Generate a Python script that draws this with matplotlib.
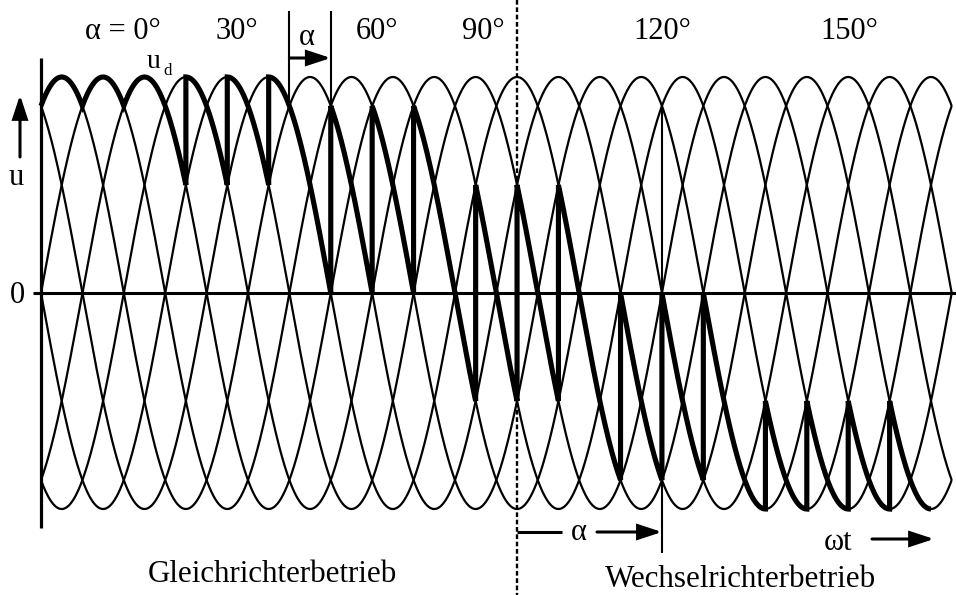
import numpy as np
import matplotlib
matplotlib.use("Agg")
import matplotlib.pyplot as plt

# ---------------- data ----------------
phase_peaks_deg = [30, 90, 150, 210, 270, 330]          # six phase voltages (peak positions)
theta_span_deg = [0, 1320]                               # drawn range of omega*t
# firing angle alpha used at each natural commutation point n*60 deg (n = 1, 2, ...)
firing_alpha_deg = [0, 0, 30, 30, 30, 60, 60, 60, 90, 90, 90,
                    120, 120, 120, 150, 150, 150, 150, 150]
region_labels = ["α = 0°", "30°", "60°", "90°", "120°", "150°"]
boundary_theta = 690                                     # rectifier / inverter border
top_alpha_marks = [360, 420]
bottom_alpha_marks = [690, 900]

# ---------------- layout helpers ----------------
W, H = 956, 595
X0, PX_PER_DEG = 41.0, 910.7 / 1320.0
Y0, PX_PER_U = 293.0, 216.0


def tx(px):
    return (px - X0) / PX_PER_DEG


def ty(py):
    return (Y0 - py) / PX_PER_U


plt.rcParams['font.family'] = ['Liberation Serif', 'DejaVu Serif']
fig = plt.figure(figsize=(W / 100, H / 100), dpi=100)
ax = fig.add_axes([0, 0, 1, 1])
ax.set_xlim(tx(0), tx(W))
ax.set_ylim(ty(H), ty(0))
ax.axis('off')

thin = 1.6
thick = 3.7

# phase voltages
theta = np.linspace(theta_span_deg[0], theta_span_deg[1], 4000)
for p in phase_peaks_deg:
    ax.plot(theta, np.cos(np.radians(theta - p)), color='black', lw=thin,
            solid_capstyle='butt')

# u_d path (thick)
xs, ys = [], []
start = 0.0
peak = 30.0
for n, a in enumerate(firing_alpha_deg, start=1):
    end = 60.0 * n + a
    seg = np.linspace(start, end, 300)
    xs.extend(seg)
    ys.extend(np.cos(np.radians(seg - peak)))
    if n < len(firing_alpha_deg):
        peak = 60.0 * n + 30.0
        start = end
ax.plot(xs, ys, color='black', lw=thick, solid_joinstyle='miter',
        solid_capstyle='butt')

# axes
ax.plot([0, 0], [ty(58), ty(528)], color='black', lw=2.3, solid_capstyle='butt')
ax.plot([tx(33), tx(956)], [0, 0], color='black', lw=2.2, solid_capstyle='butt')

# boundary dashed line
ax.plot([boundary_theta, boundary_theta], [ty(0), ty(595)], color='black', lw=1.7,
        linestyle=(0, (2.0, 1.1)))

c30 = np.cos(np.radians(30))
# top alpha marks
for t in top_alpha_marks:
    ax.plot([t, t], [ty(11), c30], color='black', lw=1.5, solid_capstyle='butt')
# bottom alpha end mark
ax.plot([bottom_alpha_marks[1]] * 2, [c30, ty(553)], color='black', lw=1.5,
        solid_capstyle='butt')


def arrow(x1, y1, x2, y2, lw=2.2):
    ax.annotate('', xy=(x2, y2), xytext=(x1, y1),
                arrowprops=dict(arrowstyle='-|>,head_length=14,head_width=4.6',
                                mutation_scale=1, lw=lw, color='black',
                                shrinkA=0, shrinkB=0, joinstyle='miter'))


# top alpha arrow
arrow(top_alpha_marks[0], ty(58), top_alpha_marks[1], ty(58))
ax.text(tx(307), ty(45), 'α', fontsize=22, ha='center', va='baseline')

# bottom alpha arrow
ax.plot([bottom_alpha_marks[0], tx(562)], [ty(532)] * 2, color='black', lw=2.2,
        solid_capstyle='butt')
arrow(tx(597), ty(532), bottom_alpha_marks[1], ty(532))
ax.text(tx(579), ty(540), 'α', fontsize=22, ha='center', va='baseline')

# omega t arrow
ax.text(tx(824), ty(550), 'ωt', fontsize=22, ha='left', va='baseline')
arrow(tx(872), ty(539), tx(934), ty(539))

# u arrow
arrow(tx(20), ty(157), tx(20), ty(95))
ax.text(tx(9), ty(185), 'u', fontsize=22, ha='left', va='baseline')
ax.text(tx(10), ty(303), '0', fontsize=22, ha='left', va='baseline')

# u_d label
ax.text(tx(147), ty(68), 'u', fontsize=20, ha='left', va='baseline')
ax.text(tx(163), ty(75), 'd', fontsize=12, ha='left', va='baseline')

# region labels
label_px = [123, 237, 377, 483, 662, 849]
for lab, px in zip(region_labels, label_px):
    ax.text(tx(px), ty(39), lab, fontsize=22, ha='center', va='baseline')

ax.text(tx(148), ty(582), 'Gleichrichterbetrieb', fontsize=22.3, ha='left',
        va='baseline')
ax.text(tx(605), ty(587), 'Wechselrichterbetrieb', fontsize=22.3, ha='left',
        va='baseline')

fig.savefig('out.png', dpi=100)
